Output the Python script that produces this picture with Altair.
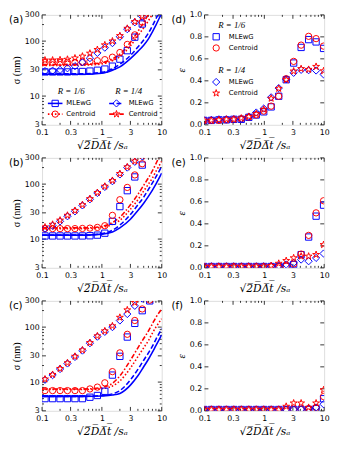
import altair as alt
import pandas as pd

BLUE = "#0000ff"
RED = "#ff0000"
W, H = 123, 113
STAR = ("M0,-1L0.2245,-0.309L0.9511,-0.309L0.3633,0.118L0.5878,0.809L0,0.382"
        "L-0.5878,0.809L-0.3633,0.118L-0.9511,-0.309L-0.2245,-0.309Z")
N = None

# ---------------- sample grids ----------------
x_sigma = [0.112, 0.150, 0.200, 0.266, 0.355, 0.473, 0.631, 0.841, 1.12, 1.50,
           2.00, 2.66, 3.55, 4.73, 6.31, 8.41]
x_eps = [0.0977, 0.130, 0.174, 0.232, 0.309, 0.412, 0.550, 0.733, 0.977, 1.30,
         1.74, 2.32, 3.09, 4.12, 5.50, 7.33, 9.77]

# ---------------- panel (a) sigma ----------------
a_sq = [27.5, 27.5, 27.5, 27.5, 27.8, 28, 28.5, 29.5, 31, 35, 47, 67, 118, 205, N, N]
a_ci = [41, 41, 41, 41, 41, 41.5, 42.5, 44, 46, 51, 62, 87, 130, 222, N, N]
a_di = [28.5, 29, 30, 32, 35, 41, 49, 61, 76, 92, 120, 165, 220, 280, N, N]
a_st = [45, 45, 45.5, 46.5, 49, 53, 60, 70, 85, 100, 125, 170, 225, 285, N, N]
a_bs_x = [0.1, 0.5, 1, 1.5, 2, 3, 4, 5, 6, 7, 8, 9, 10]
a_bs_y = [25, 25, 26, 29.5, 34, 48, 65, 84, 110, 148, 195, 255, 320]
a_bd_x = [0.1, 0.5, 1, 1.5, 2, 3, 4, 5, 6, 7, 8, 9]
a_bd_y = [25.5, 25.5, 27, 31.5, 38, 55, 78, 105, 140, 190, 255, 330]
a_rd_x = [0.1, 0.5, 1, 1.5, 2, 3, 4, 5, 6, 7]
a_rd_y = [36, 36.5, 38.5, 44, 52, 82, 125, 175, 235, 310]
a_rdd_x = [0.1, 0.5, 1, 1.5, 2, 3, 4, 5, 6]
a_rdd_y = [37.5, 38, 40.5, 47.5, 58, 95, 150, 220, 310]

# ---------------- panel (b) sigma ----------------
b_sq = [11.4, 11.4, 11.4, 11.4, 11.4, 11.4, 11.5, 11.8, 12.8, 21, 39, 76, 135, 222, N, N]
b_ci = [15.5, 15.5, 15.5, 15.5, 15.5, 15.6, 15.8, 16.3, 17.5, 27, 52, 87, 147, 235, N, N]
b_di = [15.5, 17.5, 21, 26, 32, 41, 53, 69, 89, 113, 150, 200, 255, 320, N, N]
b_st = [16.5, 18.5, 22, 27, 33, 42, 54, 70, 91, 116, 155, 205, 262, 330, N, N]
b_l_x = [0.1, 0.5, 1, 1.5, 2, 3, 4, 5, 6, 7, 8, 10]
b_bs_y = [11.8, 11.8, 12.3, 13.5, 16, 23, 33, 45, 60, 78, 100, 158]
b_bd_y = [11.8, 11.8, 12.5, 14.5, 18, 28, 42, 58, 80, 105, 135, 210]
b_rd_y = [15.5, 15.5, 16.3, 18.5, 22, 35, 52, 75, 100, 130, 170, 260]
b_rdd_x = [0.1, 0.5, 1, 1.5, 2, 3, 4, 5, 6, 7, 8, 9]
b_rdd_y = [16, 16, 17, 20, 25, 42, 65, 95, 130, 175, 235, 310]

# ---------------- panel (c) sigma ----------------
c_sq = [5.0, 5.0, 5.0, 5.0, 5.0, 5.0, 5.3, 5.7, 6.8, 13.4, 29.4, 66, 117, 199, 300, N]
c_ci = [7.0, 7.0, 7.0, 7.0, 7.0, 7.0, 7.5, 8.1, 9.7, 15.5, 34, 74, 132, 214, 310, N]
c_di = [11, 13.4, 17.3, 21.8, 28.7, 37.4, 51, 67, 82, 100, 132, 173, 244, 330, N, N]
c_st = [11.3, 13.7, 17.6, 22.3, 29.3, 38.2, 52, 69, 85, 105, 150, 205, 280, N, N, N]
c_l_x = [0.1, 0.5, 1, 1.5, 2, 3, 4, 5, 6, 7, 8, 10]
c_bs_y = [5.5, 5.5, 5.6, 5.8, 6.2, 8.8, 13, 19, 26, 35, 46, 72]
c_bd_y = [5.5, 5.5, 5.7, 6.1, 7, 11, 17, 25, 34, 45, 60, 94]
c_rd_y = [7.3, 7.3, 7.6, 8.5, 10.5, 18, 29, 42, 57, 78, 100, 142]
c_rdd_y = [7.5, 7.5, 8, 9.5, 13, 25, 42, 62, 85, 115, 150, 213]

# ---------------- panels (d)(e)(f) epsilon ----------------
d_sq = [0.04, 0.04, 0.045, 0.045, 0.05, 0.05, 0.068, 0.089, 0.118, 0.163, 0.26, 0.41,
        0.562, 0.704, 0.775, 0.754, 0.695]
d_ci = [0.04, 0.04, 0.04, 0.045, 0.05, 0.055, 0.07, 0.09, 0.125, 0.17, 0.26, 0.42,
        0.577, 0.725, 0.805, 0.784, 0.716]
d_di = [0.045, 0.045, 0.05, 0.05, 0.05, 0.055, 0.075, 0.112, 0.148, 0.25, 0.334, 0.414,
        0.473, 0.50, 0.497, 0.494, 0.459]
d_st = [0.04, 0.04, 0.045, 0.05, 0.05, 0.06, 0.075, 0.10, 0.14, 0.24, 0.33, 0.41,
        0.488, 0.51, 0.503, 0.53, 0.49]

e_sq = [0.012] * 11 + [0.015, 0.03, 0.12, 0.28, 0.47, 0.57]
e_ci = [0.012] * 11 + [0.015, 0.035, 0.125, 0.295, 0.50, 0.61]
e_di = [0.012] * 9 + [0.015, 0.02, 0.03, 0.045, 0.075, 0.06, 0.09, 0.13]
e_st = [0.012] * 9 + [0.02, 0.04, 0.065, 0.09, 0.105, 0.105, 0.12, 0.21]

f_sq = [0.012] * 15 + [0.02, 0.11]
f_ci = [0.012] * 14 + [0.02, 0.03, 0.13]
f_di = [0.012] * 13 + [0.015, 0.02, 0.03, 0.06]
f_st = [0.012] * 11 + [0.04, 0.07, 0.07, 0.03, 0.07, 0.19]

# ---------------- axis tick values ----------------
x_major = [0.1, 0.3, 1, 3, 10]
x_minor = [0.2, 0.4, 0.5, 0.6, 0.7, 0.8, 0.9, 2, 4, 5, 6, 7, 8, 9]
s_major = [3, 10, 30, 100, 300]
s_minor = [4, 5, 6, 7, 8, 9, 20, 40, 50, 60, 70, 80, 90, 200]
e_major = [0.0, 0.2, 0.4, 0.6, 0.8, 1.0]

XTITLE = "\u221a2\u0305D\u0305\u0394\u0305t\u0305 /s\u2090"

xs = alt.Scale(type="log", domain=[0.1, 10])
ys_sig = alt.Scale(type="log", domain=[3, 300])
ys_eps = alt.Scale(type="linear", domain=[0, 1], nice=False, zero=False)

ONE = pd.DataFrame({"z": [0]})


def x_axis():
    return alt.Axis(values=x_major, format="~g", title=XTITLE, ticks=False, tickSize=0,
                    domain=False, grid=False, labelFlush=False, labelOverlap=False,
                    labelPadding=4, labelFont="DejaVu Sans", labelFontSize=8,
                    labelColor="black", titleFont="DejaVu Serif", titleFontSize=11,
                    titleFontStyle="italic", titleFontWeight="normal", titleColor="black",
                    titlePadding=3)


def y_axis(vals, fmt, title, style, size):
    return alt.Axis(values=vals, format=fmt, title=title, ticks=False, tickSize=0,
                    domain=False, grid=False, labelOverlap=False, labelFlush=False,
                    labelPadding=3, labelFont="DejaVu Sans", labelFontSize=8,
                    labelColor="black", titleFont="Liberation Serif", titleFontSize=size,
                    titleFontStyle=style, titleFontWeight="normal", titleColor="black",
                    titlePadding=3)


def tick_layers(X):
    L = []
    for vals, ln in [(x_major, 4), (x_minor, 2)]:
        df = pd.DataFrame({"x": vals})
        L.append(alt.Chart(df).mark_rule(color="black", strokeWidth=0.8).encode(
            x=X, y=alt.value(H), y2=alt.value(H - ln)))
        L.append(alt.Chart(df).mark_rule(color="black", strokeWidth=0.8).encode(
            x=X, y=alt.value(0), y2=alt.value(ln)))
    return L


def ytick_layers(Y, ymaj, ymin):
    L = []
    for vals, ln in [(ymaj, 4), (ymin, 2)]:
        if not vals:
            continue
        df = pd.DataFrame({"y": vals})
        L.append(alt.Chart(df).mark_rule(color="black", strokeWidth=0.8).encode(
            y=Y, x=alt.value(0), x2=alt.value(ln)))
        L.append(alt.Chart(df).mark_rule(color="black", strokeWidth=0.8).encode(
            y=Y, x=alt.value(W), x2=alt.value(W - ln)))
    return L


SERIES_STYLE = [
    ("square", BLUE, 42),
    ("circle", RED, 42),
    ("diamond", BLUE, 55),
    (STAR, RED, 55),
]
LINE_STYLE = [
    (BLUE, None),
    (RED, [1.6, 2]),
    (BLUE, [5, 2.5]),
    (RED, [5, 2, 1.6, 2]),
]


def point_layer(xg, vals, style, X, Y):
    shape, color, size = style
    df = pd.DataFrame({"x": xg, "y": [float("nan") if v is None else v for v in vals]})
    return alt.Chart(df).mark_point(shape=shape, filled=False, color=color, size=size,
                                    strokeWidth=1, clip=True, opacity=1).encode(x=X, y=Y)


def label_layer(tag):
    return alt.Chart(ONE).mark_text(align="left", baseline="top", font="DejaVu Sans",
                                    fontSize=10.5, color="black").encode(
        x=alt.value(-34), y=alt.value(0), text=alt.value(tag))


def txt(s, x, y, size=7, font="DejaVu Sans", style="normal", align="left"):
    return alt.Chart(ONE).mark_text(align=align, baseline="middle", font=font,
                                    fontSize=size, fontStyle=style, color="black").encode(
        x=alt.value(x), y=alt.value(y), text=alt.value(s))


def marker(style, x, y):
    shape, color, size = style
    return alt.Chart(ONE).mark_point(shape=shape, filled=False, color=color, size=size,
                                     strokeWidth=1, opacity=1).encode(
        x=alt.value(x), y=alt.value(y))


def sample_line(lstyle, x1, x2, y):
    color, dash = lstyle
    kw = {"strokeDash": dash} if dash else {}
    return alt.Chart(ONE).mark_rule(color=color, strokeWidth=1.6, **kw).encode(
        x=alt.value(x1), x2=alt.value(x2), y=alt.value(y))


def panel_sigma(tag, series, lines, legend):
    X = alt.X("x:Q", scale=xs, axis=x_axis())
    Y = alt.Y("y:Q", scale=ys_sig, axis=y_axis(s_major, "~g", "\u03c3 (nm)", "normal", 10.5))
    layers = tick_layers(X) + ytick_layers(Y, s_major, s_minor)
    for (lx, ly), (color, dash) in zip(lines, LINE_STYLE):
        kw = {"strokeDash": dash} if dash else {}
        layers.append(alt.Chart(pd.DataFrame({"x": lx, "y": ly})).mark_line(
            color=color, strokeWidth=1.6, clip=True, interpolate="monotone", **kw).encode(
            x=X, y=Y))
    for vals, st in zip(series, SERIES_STYLE):
        layers.append(point_layer(x_sigma, vals, st, X, Y))
    layers.append(label_layer(tag))
    if legend:
        layers += [
            txt("R = 1/6", 30, 78, 9, "Liberation Serif", "italic", "center"),
            txt("R = 1/4", 89, 78, 9, "Liberation Serif", "italic", "center"),
        ]
        for col, (lx1, lx2, mx, tx) in enumerate([(6, 21, 13.5, 25), (69, 84, 76.5, 89)]):
            for row, yy in enumerate([91, 102]):
                idx = col * 2 + row
                layers += [sample_line(LINE_STYLE[idx], lx1, lx2, yy),
                           marker(SERIES_STYLE[idx], mx, yy),
                           txt(["MLEwG", "Centroid"][row], tx, yy)]
    return alt.layer(*layers).properties(width=W, height=H)


def panel_eps(tag, series, legend):
    X = alt.X("x:Q", scale=xs, axis=x_axis())
    Y = alt.Y("y:Q", scale=ys_eps, axis=y_axis(e_major, ".1f", "\u03b5", "italic", 11))
    layers = tick_layers(X) + ytick_layers(Y, e_major, [])
    for vals, st in zip(series, SERIES_STYLE):
        layers.append(point_layer(x_eps, vals, st, X, Y))
    layers.append(label_layer(tag))
    if legend:
        layers += [txt("R = 1/6", 28, 10, 9, "Liberation Serif", "italic", "center"),
                   txt("R = 1/4", 28, 57, 9, "Liberation Serif", "italic", "center")]
        for idx, yy in enumerate([22.5, 34, 69, 80.5]):
            layers += [marker(SERIES_STYLE[idx], 12, yy),
                       txt(["MLEwG", "Centroid"][idx % 2], 25, yy)]
    return alt.layer(*layers).properties(width=W, height=H)


pa = panel_sigma("(a)", [a_sq, a_ci, a_di, a_st],
                 [(a_bs_x, a_bs_y), (a_rd_x, a_rd_y), (a_bd_x, a_bd_y), (a_rdd_x, a_rdd_y)], True)
pb = panel_sigma("(b)", [b_sq, b_ci, b_di, b_st],
                 [(b_l_x, b_bs_y), (b_l_x, b_rd_y), (b_l_x, b_bd_y), (b_rdd_x, b_rdd_y)], False)
pc = panel_sigma("(c)", [c_sq, c_ci, c_di, c_st],
                 [(c_l_x, c_bs_y), (c_l_x, c_rd_y), (c_l_x, c_bd_y), (c_l_x, c_rdd_y)], False)
pd_ = panel_eps("(d)", [d_sq, d_ci, d_di, d_st], True)
pe = panel_eps("(e)", [e_sq, e_ci, e_di, e_st], False)
pf = panel_eps("(f)", [f_sq, f_ci, f_di, f_st], False)

rows = [alt.hconcat(l, r, spacing=3) for l, r in [(pa, pd_), (pb, pe), (pc, pf)]]
chart = alt.vconcat(*rows, spacing=2).properties(
    padding={"top": -4, "left": 0, "right": 0, "bottom": 0}).configure_view(
    stroke="black", strokeWidth=1).configure(font="DejaVu Sans")

chart.save("out.html", embed_options={"renderer": "svg", "actions": False})
